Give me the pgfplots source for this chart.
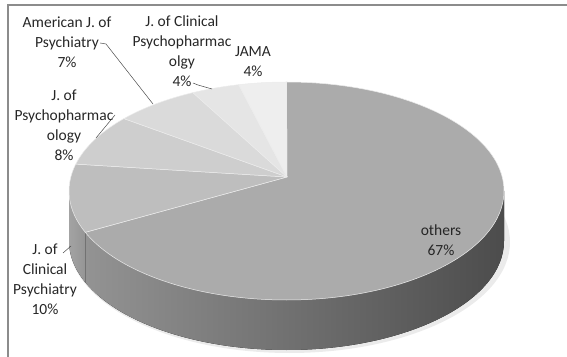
\documentclass[border=0pt]{standalone}
\usepackage{pgfplots}
\usepackage{pgfplotstable}
\pgfplotsset{compat=1.18}
\usepackage{fontspec}
\setmainfont{Carlito}

\definecolor{top0}{HTML}{ABABAB}
\definecolor{top1}{HTML}{BEBEBE}
\definecolor{top2}{HTML}{CECECE}
\definecolor{top3}{HTML}{DADADA}
\definecolor{top4}{HTML}{E5E5E5}
\definecolor{top5}{HTML}{EEEEEE}
\definecolor{sideL0}{HTML}{939393}
\definecolor{sideR0}{HTML}{4C4C4C}
\definecolor{sideL1}{HTML}{A3A3A3}
\definecolor{sideR1}{HTML}{959595}
\definecolor{sideL2}{HTML}{A0A0A0}
\definecolor{sideR2}{HTML}{A0A0A0}
\definecolor{sideL3}{HTML}{A0A0A0}
\definecolor{sideR3}{HTML}{A0A0A0}
\definecolor{sideL4}{HTML}{A0A0A0}
\definecolor{sideR4}{HTML}{A0A0A0}
\definecolor{sideL5}{HTML}{A0A0A0}
\definecolor{sideR5}{HTML}{A0A0A0}
\definecolor{txt}{HTML}{262626}

% slices in Excel order: clockwise from 12 o'clock
\pgfplotstableread{
name value
others 67
ClinPsych 10
Psychopharm 8
AmJ 7
ClinPsychopharm 4
JAMA 4
}\pietable

% ellipse geometry (pt) and perspective parameter
\def\pcx{286.5}
\def\pcy{165}
\def\pa{217.5}
\def\pb{109}
\def\ph{50}
\def\tp{0.063}
\def\apx{287}
\def\apy{179}

\pgfmathsetmacro\cum{0}
\pgfplotsforeachungrouped \i in {0,...,5}{%
  \pgfplotstablegetelem{\i}{value}\of\pietable
  \let\v\pgfplotsretval
  \pgfmathsetmacro\phis{90-3.6*\cum}%
  \pgfmathsetmacro\cum{\cum+\v}%
  \pgfmathsetmacro\phie{90-3.6*\cum}%
  \pgfmathsetmacro\ra{atan2(sin(\phis)+\tp, cos(\phis))}%
  \pgfmathsetmacro\rb{atan2(-\tp*cos(\phis), 1+\tp*sin(\phis))}%
  \pgfmathsetmacro\rd{mod(\ra-\rb-\phis+540,360)-180}%
  \pgfmathsetmacro\psis{\phis+\rd}%
  \pgfmathsetmacro\ra{atan2(sin(\phie)+\tp, cos(\phie))}%
  \pgfmathsetmacro\rb{atan2(-\tp*cos(\phie), 1+\tp*sin(\phie))}%
  \pgfmathsetmacro\rd{mod(\ra-\rb-\phie+540,360)-180}%
  \pgfmathsetmacro\psie{\phie+\rd}%
  \pgfmathsetmacro\slo{max(\psie,-180)}%
  \pgfmathsetmacro\shi{min(\psis,0)}%
  \pgfmathtruncatemacro\sflag{\shi>\slo ? 1 : 0}%
  \expandafter\xdef\csname psiS\i\endcsname{\psis}%
  \expandafter\xdef\csname psiE\i\endcsname{\psie}%
  \expandafter\xdef\csname sLo\i\endcsname{\slo}%
  \expandafter\xdef\csname sHi\i\endcsname{\shi}%
  \expandafter\xdef\csname sF\i\endcsname{\sflag}%
}

\begin{document}
\begin{tikzpicture}
\begin{axis}[x=1pt, y=1pt, xmin=0, xmax=567, ymin=0, ymax=356,
  anchor=south west, at={(0,0)}, hide axis, clip=false, disabledatascaling]
% soft shadow
\fill[black!8] (axis cs:{\pcx+3},{\pcy-\ph-1}) ellipse[x radius=\pa pt+3pt, y radius=\pb pt+2pt];
% sides (front part only)
\pgfplotsinvokeforeach{0,...,5}{%
  \ifnum\csname sF#1\endcsname=1
  \fill[left color=sideL#1, right color=sideR#1]
    (axis cs:{\pcx+\pa*cos(\csname sLo#1\endcsname)},{\pcy+\pb*sin(\csname sLo#1\endcsname)})
    arc[start angle=\csname sLo#1\endcsname, end angle=\csname sHi#1\endcsname, x radius=\pa pt, y radius=\pb pt]
    -- ++(0pt,-\ph pt)
    arc[start angle=\csname sHi#1\endcsname, end angle=\csname sLo#1\endcsname, x radius=\pa pt, y radius=\pb pt]
    -- cycle;
  \fi
}
% top faces
\pgfplotsinvokeforeach{0,...,5}{%
  \fill[top#1, draw=white!85!gray, line width=0.5pt, line join=round]
    (axis cs:\apx,\apy) --
    (axis cs:{\pcx+\pa*cos(\csname psiS#1\endcsname)},{\pcy+\pb*sin(\csname psiS#1\endcsname)})
    arc[start angle=\csname psiS#1\endcsname, end angle=\csname psiE#1\endcsname, x radius=\pa pt, y radius=\pb pt]
    -- cycle;
}
% frame
\draw[color=black!45, line width=1.4pt] (axis cs:8,351) rectangle (axis cs:580,-10);
% labels
\begin{scope}[every node/.style={align=center, text=txt, font=\fontsize{15.5}{20}\selectfont, inner sep=0pt}]
\node at (axis cs:67,314) {American J. of\\Psychiatry\\7\%};
\node at (axis cs:182,305) {J. of Clinical\\Psychopharmac\\olgy\\4\%};
\node at (axis cs:253,294) {JAMA\\4\%};
\node at (axis cs:64,231) {J. of\\Psychopharmac\\ology\\8\%};
\node at (axis cs:45,77) {J. of\\Clinical\\Psychiatry\\10\%};
\node at (axis cs:441,116) {others\\67\%};
\end{scope}
% leader lines
\draw[black!70, line width=0.5pt] (axis cs:100,313) -- (axis cs:106,312) -- (axis cs:153,252);
\draw[black!70, line width=0.5pt] (axis cs:193,273) -- (axis cs:198,271) -- (axis cs:212,267);
\draw[black!70, line width=0.5pt] (axis cs:96,218) -- (axis cs:115,241);
\draw[black!70, line width=0.5pt] (axis cs:63,103) -- (axis cs:71,110);
\end{axis}
\pgfresetboundingbox
\useasboundingbox (0,0) rectangle (567pt,356pt);
\end{tikzpicture}
\end{document}
